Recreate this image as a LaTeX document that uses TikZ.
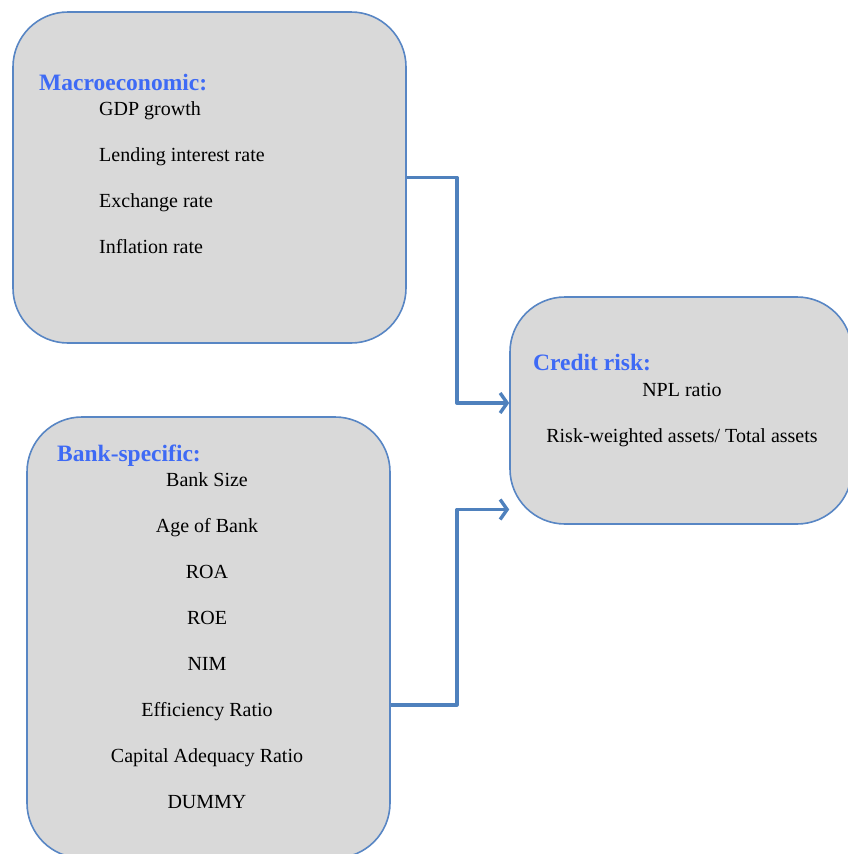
\documentclass[tikz,border=0pt]{standalone}
\usepackage{fontspec}
\setmainfont{Liberation Serif}
\usetikzlibrary{arrows.meta}
\definecolor{boxline}{RGB}{88,134,196}
\definecolor{linkblue}{RGB}{79,129,189}
\definecolor{headblue}{RGB}{62,106,245}
\definecolor{boxfill}{RGB}{217,217,217}
\begin{document}
\begin{tikzpicture}[x=1pt, y=1pt, line join=round,
		group/.style={draw=boxline, line width=1.6pt, fill=boxfill, rounded corners=55pt, inner sep=0pt},
		head/.style={font=\fontsize{23.5}{28}\selectfont\bfseries, text=headblue, anchor=base west, inner sep=0pt},
		item/.style={font=\fontsize{20}{24}\selectfont, inner sep=0pt},
		link/.style={draw=linkblue, line width=3.4pt, -{Straight Barb[length=7pt, width=20pt, line width=3.4pt]}}]
	\useasboundingbox (0,0) rectangle (847,-854);
	% boxes
	\node[group, minimum width=393, minimum height=331] (macro) at (209.5,-177.5) {};
	\node[group, minimum width=363, minimum height=441] (bank) at (208.5,-637.5) {};
	\node[group, minimum width=342, minimum height=227] (credit) at (681,-410.5) {};
	% headings
	\node[head] (macrohead) at (39,-90) {Macroeconomic:};
	\node[head] (bankhead) at (57,-461) {Bank-specific:};
	\node[head] (credithead) at (533,-370) {Credit risk:};
	% items
	\foreach \t [count=\i] in {GDP growth, Lending interest rate, Exchange rate, Inflation rate} {
		\node[item, anchor=base west] (macro\i) at (99,-115-46*\i+46) {\t};
	}
	\foreach \t [count=\i] in {Bank Size, Age of Bank, ROA, ROE, NIM, Efficiency Ratio, Capital Adequacy Ratio, DUMMY} {
		\node[item, anchor=base] (bank\i) at (207,-486-46.1*\i+46.1) {\t};
	}
	\node[item, anchor=base] (credit1) at (682,-396) {NPL ratio};
	\node[item, anchor=base] (credit2) at (682,-442) {Risk-weighted assets/ Total assets};
	% connectors
	\draw[link] (macro.east) -- ++(50,0) |- ([yshift=7.5]credit.west);
	\draw[link] ([yshift=-67.5]bank.east) -- ++(66,0) |- ([yshift=-99]credit.west);
\end{tikzpicture}
\end{document}
